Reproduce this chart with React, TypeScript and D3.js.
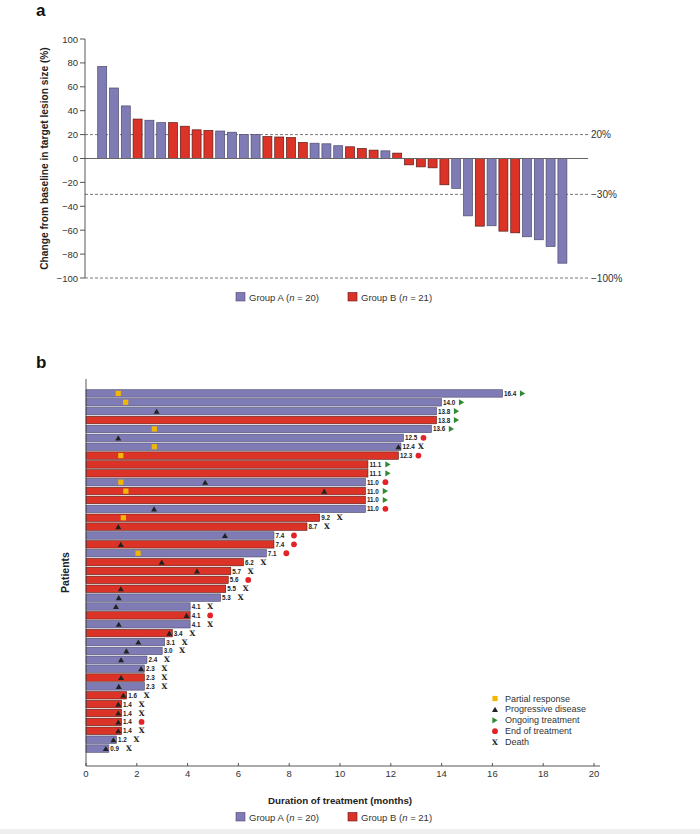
import React from "react";
import * as d3 from "d3";

// ---------- Panel a data ----------
const waterfallValues = [77, 59, 44, 33, 32, 30, 30, 27, 24, 23.5, 23, 22, 20, 20, 18.3, 18, 17.5, 13.4, 12.8, 12.3, 10.7, 9.8, 8.4, 7, 6.4, 4.5, -5.3, -7, -7.8, -22, -25, -48, -56.6, -56.3, -60.8, -62.2, -65.5, -68, -73.6, -87.6];
const waterfallGroups = ["A","A","A","B","A","A","B","B","B","B","A","A","A","A","B","B","B","B","A","A","A","B","B","B","A","B","B","B","B","B","A","A","B","A","B","B","A","A","A","A"];
const yTicksA = [100, 80, 60, 40, 20, 0, -20, -40, -60, -80, -100];
const refLines = [20, -30, -100];
const refLabels = ["20%", "\u221230%", "\u2212100%"];

// ---------- Panel b data ----------
const durations = [16.4, 14.0, 13.8, 13.8, 13.6, 12.5, 12.4, 12.3, 11.1, 11.1, 11.0, 11.0, 11.0, 11.0, 9.2, 8.7, 7.4, 7.4, 7.1, 6.2, 5.7, 5.6, 5.5, 5.3, 4.1, 4.1, 4.1, 3.4, 3.1, 3.0, 2.4, 2.3, 2.3, 2.3, 1.6, 1.4, 1.4, 1.4, 1.4, 1.2, 0.9];
const swimGroups = ["A","A","A","B","A","A","A","B","B","B","A","B","B","A","B","B","A","B","A","B","B","B","B","A","A","B","A","B","A","A","A","A","B","A","B","B","B","B","B","A","A"];
const partialResponse: (number | null)[] = [1.27, 1.56, null, null, 2.69, null, 2.69, 1.37, null, null, 1.37, 1.57, null, null, 1.47, null, null, null, 2.05, null, null, null, null, null, null, null, null, null, null, null, null, null, null, null, null, null, null, null, null, null, null];
const progression: (number | null)[] = [null, null, 2.78, null, null, 1.27, 12.3, null, null, null, 4.69, 9.38, null, 2.68, null, 1.27, 5.47, 1.37, null, 2.98, 4.37, null, 1.37, 1.29, 1.18, 3.96, 1.29, 3.28, 2.06, 1.59, 1.38, 2.17, 1.38, 1.29, 1.47, 1.27, 1.27, 1.27, 1.27, 1.08, 0.78];
const outcomes = ["ongoing","ongoing","ongoing","ongoing","ongoing","end","death","end","ongoing","ongoing","end","ongoing","ongoing","end","death","death","end","end","end","death","death","end","death","death","death","end","death","death","death","death","death","death","death","death","death","death","death","end","death","death","death"];
const xTicksB = [0, 2, 4, 6, 8, 10, 12, 14, 16, 18, 20];
const markerLegend = ["Partial response", "Progressive disease", "Ongoing treatment", "End of treatment", "Death"];
const groupLegend = [
  { key: "A", label: "Group A", n: 20 },
  { key: "B", label: "Group B", n: 21 },
];

const COLORS: Record<string, string> = { A: "#7f7bb4", B: "#dc3328" };
const STROKES: Record<string, string> = { A: "#4d4a6e", B: "#5a1a14" };
const YELLOW = "#f2b705";
const GREEN = "#2f8a34";
const RED_DOT = "#e3232a";
const TEXT = "#333";
const FONT = "'Liberation Sans', Arial, Helvetica, sans-serif";

function Triangle({ x, y, s = 6, fill = "#222" }: { x: number; y: number; s?: number; fill?: string }) {
  const h = s * 0.85;
  return <path d={`M${x - s / 2},${y + h / 2}L${x + s / 2},${y + h / 2}L${x},${y - h / 2}Z`} fill={fill} />;
}
function RightTri({ x, y, s = 6, fill = GREEN }: { x: number; y: number; s?: number; fill?: string }) {
  const w = s * 0.85;
  return <path d={`M${x - w / 2},${y - s / 2}L${x + w / 2},${y}L${x - w / 2},${y + s / 2}Z`} fill={fill} />;
}
function Marker({ type, x, y }: { type: string; x: number; y: number }) {
  if (type === "pr") return <rect x={x - 2.6} y={y - 2.6} width={5.2} height={5.2} fill={YELLOW} />;
  if (type === "pd") return <Triangle x={x} y={y} s={6} />;
  if (type === "ongoing") return <RightTri x={x} y={y} s={6.2} />;
  if (type === "end") return <circle cx={x} cy={y} r={2.9} fill={RED_DOT} />;
  return (
    <text x={x} y={y} textAnchor="middle" dominantBaseline="central" fontSize={7.5} fontWeight="bold" fill="#222" fontFamily="'DejaVu Serif', serif">X</text>
  );
}

function GroupLegend({ y }: { y: number }) {
  const xs = [236, 348];
  return (
    <g>
      {groupLegend.map((g, i) => (
        <g key={g.key}>
          <rect x={xs[i]} y={y - 4.5} width={9} height={8.5} fill={COLORS[g.key]} stroke={STROKES[g.key]} strokeWidth={0.6} />
          <text x={xs[i] + 13} y={y + 3.5} fontSize={9.5} fill={TEXT} fontFamily={FONT}>
            {g.label} (<tspan fontStyle="italic">n</tspan> = {g.n})
          </text>
        </g>
      ))}
    </g>
  );
}

export default function App() {
  // Panel a scales
  const idxA = d3.range(waterfallValues.length);
  const xA = d3.scaleBand<number>().domain(idxA).range([96.3, 568.3]).paddingInner(0.24).paddingOuter(0.12);
  const yA = d3.scaleLinear().domain([-100, 100]).range([278, 39]);
  const axisLeftX = 85;
  const refEnd = 588;

  // Panel b scales
  const idxB = d3.range(durations.length);
  const xB = d3.scaleLinear().domain([0, 20]).range([86, 594]);
  const yB = d3.scaleBand<number>().domain(idxB).range([389, 753]).paddingInner(0.16).paddingOuter(0.08);
  const axisBottomY = 766;
  const endOffset = 20;

  return (
    <svg width={700} height={834} style={{ position: "absolute", left: 0, top: 0, display: "block", background: "#fff" }} fontFamily={FONT}>
      {/* ---------- Panel a ---------- */}
      <text x={36} y={16} fontSize={17} fontWeight="bold" fill="#111">a</text>

      {/* reference lines */}
      {refLines.map((v, i) => (
        <g key={v}>
          <line x1={axisLeftX} x2={refEnd} y1={yA(v)} y2={yA(v)} stroke="#555" strokeWidth={0.8} strokeDasharray="3,2" />
          <text x={refEnd + 3} y={yA(v)} dominantBaseline="central" fontSize={10} fill={TEXT}>{refLabels[i]}</text>
        </g>
      ))}

      {/* bars */}
      {waterfallValues.map((v, i) => (
        <rect
          key={i}
          x={xA(i)}
          y={Math.min(yA(v), yA(0))}
          width={xA.bandwidth()}
          height={Math.abs(yA(v) - yA(0))}
          fill={COLORS[waterfallGroups[i]]}
          stroke={STROKES[waterfallGroups[i]]}
          strokeWidth={0.7}
        />
      ))}
      {/* zero line */}
      <line x1={axisLeftX} x2={refEnd} y1={yA(0)} y2={yA(0)} stroke="#666" strokeWidth={1} />

      {/* y axis */}
      <line x1={axisLeftX} x2={axisLeftX} y1={yA(100)} y2={yA(-100)} stroke="#444" strokeWidth={0.9} />
      {yTicksA.map((t) => (
        <g key={t}>
          <line x1={axisLeftX - 5} x2={axisLeftX} y1={yA(t)} y2={yA(t)} stroke="#444" strokeWidth={0.9} />
          <text x={axisLeftX - 7} y={yA(t)} textAnchor="end" dominantBaseline="central" fontSize={9.5} fill={TEXT}>
            {t < 0 ? "\u2212" + Math.abs(t) : String(t)}
          </text>
        </g>
      ))}
      <text
        transform={`translate(48,${(yA(100) + yA(-100)) / 2}) rotate(-90)`}
        textAnchor="middle"
        fontSize={10.2}
        fontWeight="bold"
        fill="#222"
      >
        Change from baseline in target lesion size (%)
      </text>

      <GroupLegend y={297} />

      {/* ---------- Panel b ---------- */}
      <text x={36} y={368} fontSize={17} fontWeight="bold" fill="#111">b</text>

      {durations.map((d, i) => {
        const y = yB(i) as number;
        const h = yB.bandwidth();
        const cy = y + h / 2;
        const x1 = xB(d);
        const pr = partialResponse[i];
        const pd = progression[i];
        return (
          <g key={i}>
            <rect x={xB(0)} y={y} width={x1 - xB(0)} height={h} fill={COLORS[swimGroups[i]]} stroke={STROKES[swimGroups[i]]} strokeWidth={0.6} />
            {pr != null && <Marker type="pr" x={xB(pr)} y={cy} />}
            {pd != null && <Marker type="pd" x={xB(pd)} y={cy} />}
            <text x={x1 + 1.5} y={cy} dominantBaseline="central" fontSize={6.3} fontWeight="bold" fill="#222">
              {d.toFixed(1)}
            </text>
            <Marker type={outcomes[i]} x={x1 + endOffset} y={cy} />
          </g>
        );
      })}

      {/* axes */}
      <line x1={86} x2={86} y1={379} y2={axisBottomY} stroke="#444" strokeWidth={0.9} />
      <line x1={86} x2={600} y1={axisBottomY} y2={axisBottomY} stroke="#444" strokeWidth={0.9} />
      {xTicksB.map((t) => (
        <g key={t}>
          <line x1={xB(t)} x2={xB(t)} y1={axisBottomY - 3} y2={axisBottomY} stroke="#444" strokeWidth={0.9} />
          <text x={xB(t)} y={axisBottomY + 11} textAnchor="middle" fontSize={9.5} fill={TEXT}>{t}</text>
        </g>
      ))}
      <text x={340} y={804} textAnchor="middle" fontSize={9.8} fontWeight="bold" fill="#222">Duration of treatment (months)</text>
      <text transform={`translate(69,${(379 + axisBottomY) / 2}) rotate(-90)`} textAnchor="middle" fontSize={10.5} fontWeight="bold" fill="#222">Patients</text>

      {/* marker legend */}
      {markerLegend.map((lab, i) => {
        const types = ["pr", "pd", "ongoing", "end", "death"];
        const y = 698.5 + i * 10.9;
        return (
          <g key={lab}>
            <Marker type={types[i]} x={495} y={y} />
            <text x={505} y={y} dominantBaseline="central" fontSize={9} fill={TEXT}>{lab}</text>
          </g>
        );
      })}

      <GroupLegend y={817} />
      <rect x={0} y={829} width={700} height={5} fill="#eeeeee" />
    </svg>
  );
}
